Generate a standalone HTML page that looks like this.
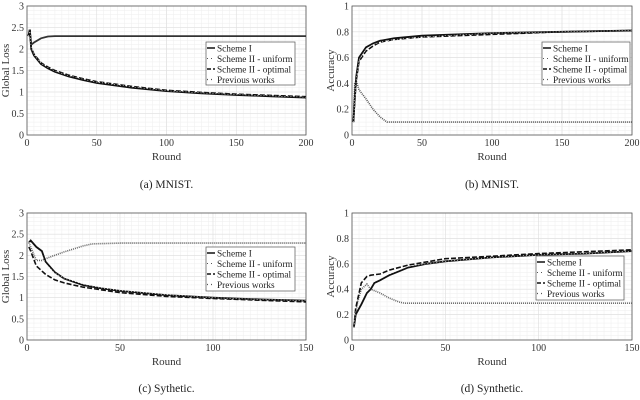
<!DOCTYPE html>
<html><head><meta charset="utf-8"><style>
body{margin:0;background:#fff;}
svg{display:block;font-family:"Liberation Serif",serif;}
</style></head><body>
<svg id="fig" width="640" height="400" viewBox="0 0 640 400"></svg>
<script>
// Panel (a) MNIST loss
const aRounds=[1,2,3,5,10,15,20,30,40,50,75,100,125,150,175,200];
const aScheme1=[2.3,2.45,2.0,1.85,1.65,1.55,1.47,1.36,1.28,1.21,1.1,1.02,0.97,0.93,0.9,0.87];
const aUniform=[2.3,2.45,2.02,1.87,1.67,1.57,1.49,1.38,1.3,1.23,1.12,1.03,0.98,0.94,0.91,0.88];
const aOptimal=[2.3,2.45,2.03,1.88,1.68,1.58,1.5,1.39,1.31,1.24,1.13,1.04,0.99,0.95,0.92,0.89];
const aPrevRounds=[1,2,3,5,10,15,20,50,100,150,200];
const aPrev=[2.3,2.45,2.1,2.15,2.25,2.29,2.3,2.3,2.3,2.3,2.3];
// Panel (b) MNIST accuracy
const bRounds=[1,2,3,5,10,15,20,30,50,100,150,200];
const bScheme1=[0.1,0.3,0.45,0.6,0.68,0.71,0.73,0.75,0.77,0.79,0.8,0.81];
const bUniform=[0.1,0.28,0.43,0.58,0.66,0.7,0.72,0.74,0.76,0.79,0.8,0.81];
const bOptimal=[0.1,0.27,0.42,0.57,0.65,0.69,0.72,0.74,0.76,0.78,0.8,0.81];
const bPrevRounds=[1,2,3,5,10,15,20,25,50,100,200];
const bPrev=[0.1,0.4,0.42,0.35,0.28,0.2,0.14,0.1,0.1,0.1,0.1];
// Panel (c) Synthetic loss
const cRounds=[1,2,5,8,10,15,20,30,40,50,75,100,125,150];
const cScheme1=[2.3,2.35,2.2,2.1,1.85,1.6,1.45,1.3,1.22,1.16,1.06,1.0,0.96,0.93];
const cUniform=[2.3,2.3,2.15,2.0,1.8,1.58,1.46,1.32,1.23,1.17,1.07,1.0,0.96,0.93];
const cOptRounds=[1,2,5,10,15,20,30,50,75,100,150];
const cOptimal=[2.2,2.1,1.75,1.55,1.42,1.35,1.25,1.12,1.03,0.98,0.9];
const cPrevRounds=[1,2,5,8,10,15,20,25,30,35,50,150];
const cPrev=[2.3,2.2,1.88,1.88,1.92,2.0,2.08,2.15,2.22,2.27,2.29,2.29];
// Panel (d) Synthetic accuracy
const dRounds=[1,2,5,8,10,12,15,20,25,30,40,50,75,100,125,150];
const dScheme1=[0.1,0.2,0.28,0.37,0.4,0.45,0.47,0.51,0.54,0.57,0.6,0.62,0.65,0.67,0.68,0.7];
const dUniform=[0.1,0.22,0.32,0.4,0.43,0.46,0.49,0.52,0.55,0.58,0.6,0.62,0.65,0.67,0.68,0.7];
const dOptRounds=[1,2,5,8,10,15,20,30,50,75,100,150];
const dOptimal=[0.1,0.25,0.45,0.5,0.51,0.52,0.55,0.59,0.64,0.66,0.68,0.71];
const dPrevRounds=[1,3,5,8,10,15,20,25,28,150];
const dPrev=[0.1,0.3,0.4,0.44,0.4,0.37,0.33,0.3,0.29,0.29];

const lossTicks=["0","0.5","1","1.5","2","2.5","3"];
const accTicks=["0","0.2","0.4","0.6","0.8","1"];
const x200Ticks=["0","50","100","150","200"];
const x150Ticks=["0","50","100","150"];
const legendLabels=["Scheme I","Scheme II - uniform","Scheme II - optimal","Previous works"];

const NS="http://www.w3.org/2000/svg";
const svg=document.getElementById('fig');
function mk(tag,attrs,parent){const e=document.createElementNS(NS,tag);for(const k in attrs)e.setAttribute(k,attrs[k]);(parent||svg).appendChild(e);return e;}

function panel(p){
  const g=mk('g',{});
  
  
  const L=p.box[0],R=p.box[1],T=p.box[2],B=p.box[3];
  const xs=v=>L+(v-p.xmin)/(p.xmax-p.xmin)*(R-L);
  const ys=v=>B-(v-p.ymin)/(p.ymax-p.ymin)*(B-T);
  const xr=p.xmax-p.xmin, yr=p.ymax-p.ymin;
  for(let v=p.xmin;v<=p.xmax+1e-9;v+=xr/40) mk('line',{x1:xs(v),x2:xs(v),y1:T,y2:B,stroke:'#eee','stroke-width':0.5},g);
  for(let v=p.ymin;v<=p.ymax+1e-9;v+=yr/30) mk('line',{x1:L,x2:R,y1:ys(v),y2:ys(v),stroke:'#eee','stroke-width':0.5},g);
  p.xt.forEach(t=>{const v=+t;mk('line',{x1:xs(v),x2:xs(v),y1:T,y2:B,stroke:'#ddd','stroke-width':0.6},g);
    const tx=mk('text',{x:xs(v),y:B+11,'font-size':10,'text-anchor':'middle',fill:'#333'},g);tx.textContent=t;});
  p.yt.forEach(t=>{const v=+t;mk('line',{x1:L,x2:R,y1:ys(v),y2:ys(v),stroke:'#ddd','stroke-width':0.6},g);
    const tx=mk('text',{x:L-3,y:ys(v)+3.5,'font-size':10,'text-anchor':'end',fill:'#333'},g);tx.textContent=t;});
  mk('rect',{x:L,y:T,width:R-L,height:B-T,fill:'none',stroke:'#555','stroke-width':0.8},g);
  const pts=(xa,ya)=>xa.map((x,i)=>xs(x).toFixed(1)+','+ys(ya[i]).toFixed(1)).join(' ');
  const prev=mk('polyline',{points:pts(p.prevX,p.prev),fill:'none',stroke:p.prevColor,'stroke-width':p.prevW,'stroke-dasharray':p.prevDash},g);
  
  const opt=mk('polyline',{points:pts(p.optX,p.opt),fill:'none',stroke:'#111','stroke-width':1.6,'stroke-dasharray':'5 2'},g);
  
  const s1=mk('polyline',{points:pts(p.x,p.s1),fill:'none',stroke:'#111','stroke-width':1.8},g);
  
  const uni=mk('polyline',{points:pts(p.x,p.uni),fill:'none',stroke:'#fff','stroke-width':0.6,'stroke-dasharray':'1 2'},g);
  
  const xl=mk('text',{x:(L+R)/2,y:B+25,'font-size':11,'text-anchor':'middle',fill:'#333'},g);xl.textContent='Round';
  
  const yl=mk('text',{x:0,y:0,'font-size':11,'text-anchor':'middle',fill:'#333',transform:`translate(${p.ylx},${(T+B)/2}) rotate(-90)`},g);yl.textContent=p.ylabel;
  
  const cap=mk('text',{x:(L+R)/2,y:p.capY,'font-size':11.5,'text-anchor':'middle',fill:'#222'},g);cap.textContent=p.caption;
  
  const lg=mk('g',{},g);
  
  const [lx,ly,lw,lh]=p.leg;
  mk('rect',{x:lx,y:ly,width:lw,height:lh,fill:'#fff',stroke:'#555','stroke-width':0.7},lg);
  legendLabels.forEach((s,i)=>{
    const yy=ly+6+i*10.5;
    const st=i==0?{stroke:'#111','stroke-width':1.5}:i==1?{stroke:'#555','stroke-width':1,'stroke-dasharray':'1 3'}:i==2?{stroke:'#111','stroke-width':1.5,'stroke-dasharray':'4 2'}:{stroke:'#555','stroke-width':1.2,'stroke-dasharray':'1 3'};
    mk('line',Object.assign({x1:lx+1,x2:lx+9,y1:yy,y2:yy},st),lg);
    const t=mk('text',{x:lx+11,y:yy+3.5,'font-size':9.3,fill:'#222'},lg);t.textContent=s;
    
  });
}

panel({name:'panel-a-mnist-loss',box:[27,306,6,135],xmin:0,xmax:200,ymin:0,ymax:3,xt:x200Ticks,yt:lossTicks,
  x:aRounds,s1:aScheme1,uni:aUniform,optX:aRounds,opt:aOptimal,prevX:aPrevRounds,prev:aPrev,
  prevColor:'#333',prevW:1.8,prevDash:'none',
  ylabel:'Global Loss',ylx:9,caption:'(a)  MNIST.',capY:188,leg:[206,42,89,43]});
panel({name:'panel-b-mnist-accuracy',box:[352,632,6,135],xmin:0,xmax:200,ymin:0,ymax:1,xt:x200Ticks,yt:accTicks,
  x:bRounds,s1:bScheme1,uni:bUniform,optX:bRounds,opt:bOptimal,prevX:bPrevRounds,prev:bPrev,
  prevColor:'#555',prevW:1.6,prevDash:'1 1',
  ylabel:'Accuracy',ylx:334,caption:'(b)  MNIST.',capY:188,leg:[542,42,88,43]});
panel({name:'panel-c-synthetic-loss',box:[27,306,213,340],xmin:0,xmax:150,ymin:0,ymax:3,xt:x150Ticks,yt:lossTicks,
  x:cRounds,s1:cScheme1,uni:cUniform,optX:cOptRounds,opt:cOptimal,prevX:cPrevRounds,prev:cPrev,
  prevColor:'#666',prevW:1.6,prevDash:'1 1',
  ylabel:'Global Loss',ylx:9,caption:'(c)  Sythetic.',capY:392,leg:[206,247,89,44]});
panel({name:'panel-d-synthetic-accuracy',box:[352,632,213,340],xmin:0,xmax:150,ymin:0,ymax:1,xt:x150Ticks,yt:accTicks,
  x:dRounds,s1:dScheme1,uni:dUniform,optX:dOptRounds,opt:dOptimal,prevX:dPrevRounds,prev:dPrev,
  prevColor:'#666',prevW:1.6,prevDash:'1 1',
  ylabel:'Accuracy',ylx:334,caption:'(d)  Synthetic.',capY:392,leg:[536,256,88,44]});
</script>
</body></html>
